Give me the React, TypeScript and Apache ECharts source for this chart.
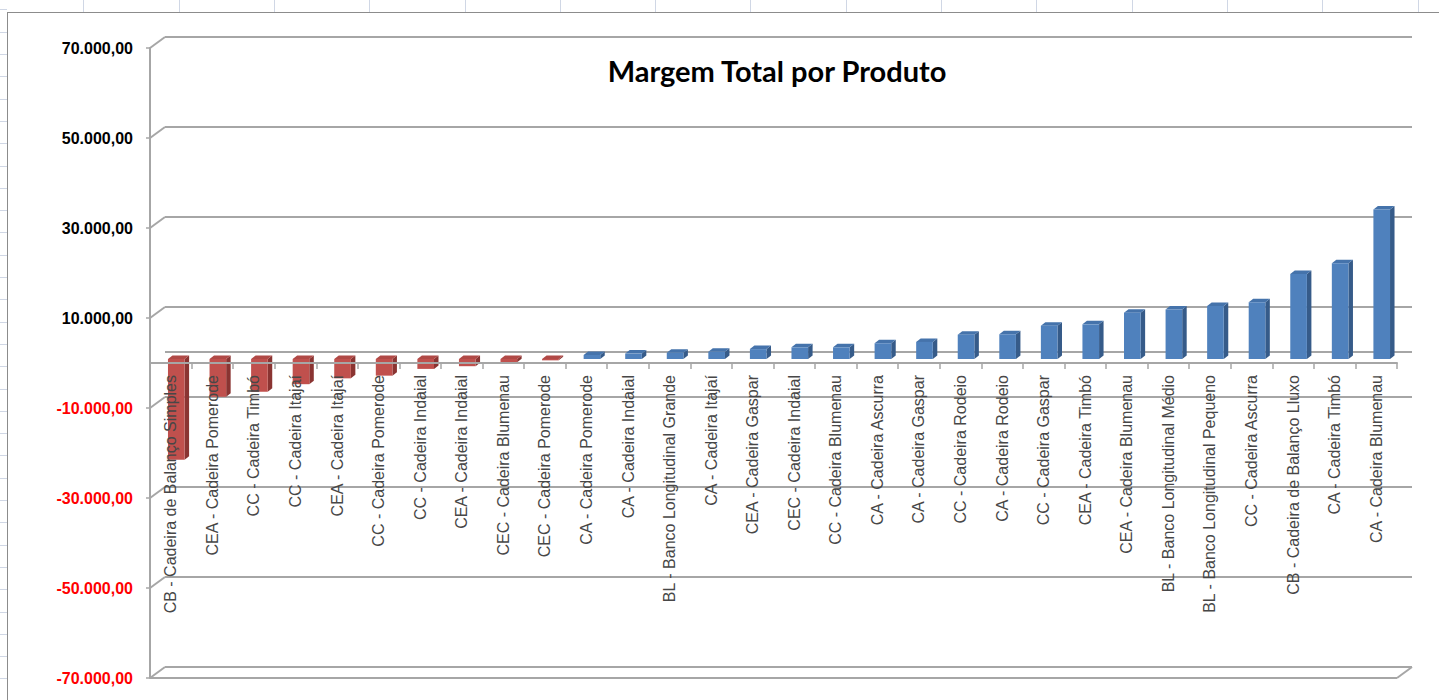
import React, { useEffect, useRef } from "react";
import * as echarts from "echarts";

const categories: string[] = [
  "CB - Cadeira de Balanço Simples",
  "CEA - Cadeira Pomerode",
  "CC - Cadeira Timbó",
  "CC - Cadeira Itajaí",
  "CEA - Cadeira Itajaí",
  "CC - Cadeira Pomerode",
  "CC - Cadeira Indaial",
  "CEA - Cadeira Indaial",
  "CEC - Cadeira Blumenau",
  "CEC - Cadeira Pomerode",
  "CA - Cadeira Pomerode",
  "CA - Cadeira Indaial",
  "BL - Banco Longitudinal Grande",
  "CA - Cadeira Itajaí",
  "CEA - Cadeira Gaspar",
  "CEC - Cadeira Indaial",
  "CC - Cadeira Blumenau",
  "CA - Cadeira Ascurra",
  "CA - Cadeira Gaspar",
  "CC - Cadeira Rodeio",
  "CA - Cadeira Rodeio",
  "CC - Cadeira Gaspar",
  "CEA - Cadeira Timbó",
  "CEA - Cadeira Blumenau",
  "BL - Banco Longitudinal Médio",
  "BL - Banco Longitudinal Pequeno",
  "CC - Cadeira Ascurra",
  "CB - Cadeira de Balanço Lluxo",
  "CA - Cadeira Timbó",
  "CA - Cadeira Blumenau",
];

const margemTotal: number[] = [
  -22400, -8400, -7300, -5600, -4300, -3700, -2200, -1600, -700, -300,
  900, 1200, 1400, 1600, 2200, 2600, 2600, 3500, 3800, 5400,
  5500, 7400, 7700, 10300, 11000, 11800, 12600, 18900, 21300, 33200,
];

const yTickValues: number[] = [70000, 50000, 30000, 10000, -10000, -30000, -50000, -70000];
const Y_MIN = -70000;
const Y_MAX = 70000;
const Y_STEP = 20000;

const TITLE = "Margem Total por Produto";

const W = 1439;
const H = 700;
const GRID_LEFT = 150;
const GRID_TOP = 48;
const GRID_W = 1247;
const GRID_H = 630;
const WALL_DX = 15;
const WALL_DY = -11;
const BAR_OX = 5.5;
const BAR_OY = -4;
const BAR_DX = 4.5;
const BAR_DY = -3.5;
const GRID_COLOR = "#a6a6a6";
// distance of the zero line above the bottom of the plot, to seat the category axis on it
const ZERO_OFFSET = (GRID_H * (0 - Y_MIN)) / (Y_MAX - Y_MIN);

const RED = { front: "#C0504D", side: "#8A3432", top: "#B04946" };
const BLUE = { front: "#4F81BD", side: "#365B89", top: "#4573AB" };

function fmtBR(v: number): string {
  const s = Math.abs(Math.round(v)).toString().replace(/\B(?=(\d{3})+(?!\d))/g, ".");
  return (v < 0 ? "-" : "") + s + ",00";
}

const colLines: number[] = [];
for (let k = 0; k < 16; k++) colLines.push(Math.round(83.3 + 95.3 * k));
const rowLines: number[] = [];
for (let k = 0; k < 32; k++) rowLines.push(Math.round(9.4 + 22.3 * k));

export default function App() {
  const ref = useRef<HTMLDivElement>(null);

  useEffect(() => {
    if (!ref.current) return;
    const chart = echarts.init(ref.current, undefined, { renderer: "svg", width: W, height: H });

    const wallData = [...yTickValues, 0].map((v) => [0, v]);
    const barData = margemTotal.map((v, i) => [i, v]);

    const option: any = {
      animation: false,
      backgroundColor: "transparent",
      title: {
        text: TITLE,
        left: 772,
        top: 51,
        textAlign: "center",
        textStyle: { fontFamily: "Lato", fontWeight: "bold", fontSize: 29, color: "#000" },
      },
      grid: {
        left: GRID_LEFT,
        top: GRID_TOP,
        width: GRID_W,
        height: GRID_H,
        containLabel: false,
        outerBoundsMode: "none",
      },
      xAxis: {
        type: "category",
        data: categories,
        boundaryGap: true,
        position: "bottom",
        offset: -ZERO_OFFSET,
        z: 10,
        axisLine: { show: true, onZero: false, lineStyle: { color: GRID_COLOR, width: 2 } },
        axisTick: { show: true, length: 6, lineStyle: { color: GRID_COLOR, width: 1.5 } },
        axisLabel: {
          interval: 0,
          rotate: 90,
          margin: 12,
          padding: [8, 0, 0, 0],
          fontFamily: "Liberation Sans, Arial, sans-serif",
          fontSize: 16,
          color: "#474747",
        },
        splitLine: { show: false },
      },
      yAxis: {
        type: "value",
        min: Y_MIN,
        max: Y_MAX,
        interval: Y_STEP,
        axisLine: { show: true, lineStyle: { color: GRID_COLOR, width: 2 } },
        axisTick: { show: true, length: 4, lineStyle: { color: GRID_COLOR, width: 1.5 } },
        splitLine: { show: false },
        axisLabel: {
          margin: 17,
          fontFamily: "Liberation Sans, Arial, sans-serif",
          fontWeight: "bold",
          fontSize: 16,
          formatter: (v: number) => fmtBR(Number(v)),
          color: (v: any) => (Number(v) < 0 ? "#FF0000" : "#000000"),
        },
      },
      series: [
        {
          type: "custom",
          name: "wall",
          silent: true,
          z: 1,
          data: wallData,
          renderItem: (params: any, api: any) => {
            const v = api.value(1);
            const cs = params.coordSys;
            const y = api.coord([0, v])[1];
            const x0 = cs.x;
            const x1 = cs.x + cs.width;
            const st = { stroke: GRID_COLOR, lineWidth: 2, fill: "none" };
            const children: any[] = [];
            if (v !== 0) {
              children.push({ type: "line", shape: { x1: x0, y1: y, x2: x0 + WALL_DX, y2: y + WALL_DY }, style: st });
            }
            children.push({
              type: "line",
              shape: { x1: x0 + WALL_DX, y1: y + WALL_DY, x2: x1 + WALL_DX, y2: y + WALL_DY },
              style: st,
            });
            if (v === Y_MIN) {
              children.push({ type: "line", shape: { x1: x0, y1: y, x2: x1, y2: y }, style: st });
              children.push({ type: "line", shape: { x1: x1, y1: y, x2: x1 + WALL_DX, y2: y + WALL_DY }, style: st });
            }
            return { type: "group", children };
          },
        },
        {
          type: "custom",
          name: "Margem Total",
          z: 3,
          data: barData,
          renderItem: (params: any, api: any) => {
            const i = api.value(0);
            const v = api.value(1);
            const base = api.coord([i, 0]);
            const tip = api.coord([i, v]);
            const band = api.size([1, 0])[0];
            const w = band * 0.4;
            const xl = base[0] - w / 2 + BAR_OX;
            const xr = xl + w;
            const yZero = base[1] + BAR_OY;
            const yVal = tip[1] + BAR_OY;
            const top = Math.min(yZero, yVal);
            const bottom = Math.max(yZero, yVal);
            const pal = v < 0 ? RED : BLUE;
            return {
              type: "group",
              children: [
                {
                  type: "polygon",
                  shape: { points: [[xr, top], [xr + BAR_DX, top + BAR_DY], [xr + BAR_DX, bottom + BAR_DY], [xr, bottom]] },
                  style: { fill: pal.side },
                },
                {
                  type: "polygon",
                  shape: { points: [[xl, top], [xr, top], [xr + BAR_DX, top + BAR_DY], [xl + BAR_DX, top + BAR_DY]] },
                  style: { fill: pal.top },
                },
                {
                  type: "rect",
                  shape: { x: xl, y: top, width: w, height: bottom - top },
                  style: { fill: pal.front },
                },
              ],
            };
          },
        },
      ],
    };

    chart.setOption(option);
    return () => chart.dispose();
  }, []);

  return (
    <div style={{ position: "fixed", left: 0, top: 0, width: W, height: H, background: "#fff", overflow: "hidden" }}>
      {colLines.map((x) => (
        <div key={"c" + x} style={{ position: "absolute", left: x, top: 0, width: 1, height: 12, background: "#d0d7e5" }} />
      ))}
      {rowLines.map((y) => (
        <div key={"r" + y} style={{ position: "absolute", left: 0, top: y, width: 7, height: 1, background: "#d0d7e5" }} />
      ))}
      <div
        style={{
          position: "absolute",
          left: 7,
          top: 12,
          width: W,
          height: H,
          borderTop: "1px solid #8c8c8c",
          borderLeft: "1px solid #8c8c8c",
          background: "#fff",
        }}
      />
      <div ref={ref} style={{ position: "absolute", left: 0, top: 0, width: W, height: H }} />
    </div>
  );
}
